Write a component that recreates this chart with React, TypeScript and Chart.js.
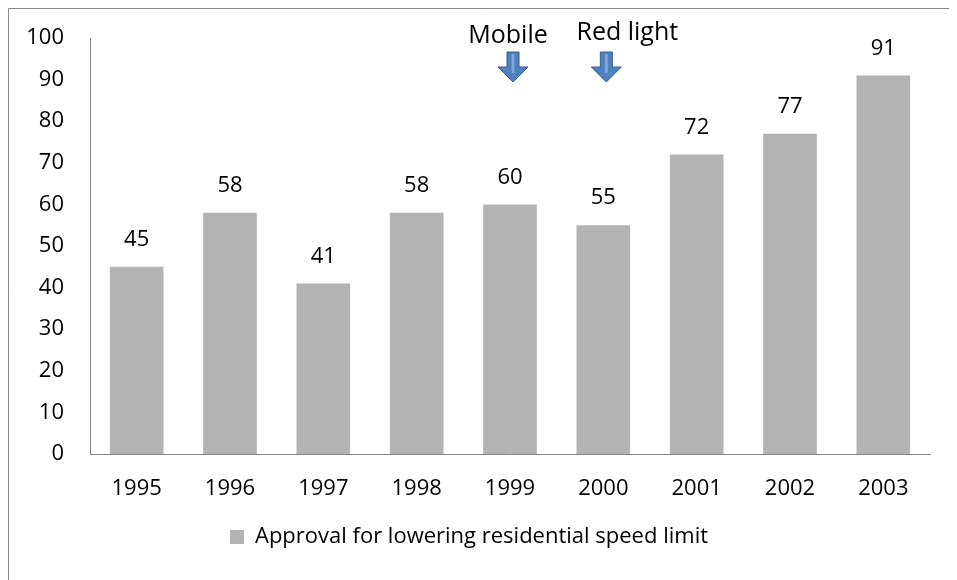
import React, { useEffect, useRef } from "react";
import { Chart, registerables } from "chart.js";

Chart.register(...registerables);

const years = ["1995", "1996", "1997", "1998", "1999", "2000", "2001", "2002", "2003"];
const approval = [45, 58, 41, 58, 60, 55, 72, 77, 91];
const seriesLabel = "Approval for lowering residential speed limit";
const markers = [
  { year: "1999", text: "Mobile", textDx: -5, textDy: -1 },
  { year: "2000", text: "Red light", textDx: 21, textDy: -4 },
];

const FONT = "'Open Sans', sans-serif";

const framePlugin = {
  id: "frame",
  beforeDraw(chart: any) {
    const ctx = chart.ctx;
    ctx.save();
    ctx.fillStyle = "#ffffff";
    ctx.fillRect(0, 0, chart.width, chart.height);
    ctx.strokeStyle = "#868686";
    ctx.lineWidth = 1;
    ctx.beginPath();
    ctx.moveTo(0.5, chart.height);
    ctx.lineTo(0.5, 0.5);
    ctx.lineTo(chart.width, 0.5);
    ctx.stroke();
    ctx.restore();
  },
};

const valueLabelPlugin = {
  id: "valueLabels",
  afterDatasetsDraw(chart: any) {
    const ctx = chart.ctx;
    const meta = chart.getDatasetMeta(0);
    ctx.save();
    ctx.font = `22px ${FONT}`;
    ctx.fillStyle = "#000000";
    ctx.textAlign = "center";
    ctx.textBaseline = "middle";
    meta.data.forEach((bar: any, i: number) => {
      ctx.fillText(String(approval[i]), bar.x, bar.y - 27);
    });
    ctx.restore();
  },
};

const markerPlugin = {
  id: "markers",
  afterDraw(chart: any) {
    const ctx = chart.ctx;
    const xs = chart.scales.x;
    const top = chart.chartArea.top;
    ctx.save();
    markers.forEach((m) => {
      const cx = xs.getPixelForValue(years.indexOf(m.year)) + 3;
      ctx.font = `25px ${FONT}`;
      ctx.fillStyle = "#000000";
      ctx.textAlign = "center";
      ctx.textBaseline = "middle";
      ctx.fillText(m.text, cx + m.textDx, top - 1 + m.textDy);
      const y0 = top + 14;
      const y1 = top + 29;
      const y2 = top + 44;
      const sw = 6;
      const hw = 15;
      ctx.beginPath();
      ctx.moveTo(cx - sw, y0);
      ctx.lineTo(cx + sw, y0);
      ctx.lineTo(cx + sw, y1);
      ctx.lineTo(cx + hw, y1);
      ctx.lineTo(cx, y2);
      ctx.lineTo(cx - hw, y1);
      ctx.lineTo(cx - sw, y1);
      ctx.closePath();
      ctx.fillStyle = "#4F81BD";
      ctx.fill();
      ctx.strokeStyle = "#385D8A";
      ctx.lineWidth = 1;
      ctx.stroke();
      ctx.fillStyle = "#7FA6D6";
      ctx.fillRect(cx - 1.5, y0 + 2, 3, y1 - y0 + 4);
    });
    ctx.restore();
  },
};

export default function App() {
  const ref = useRef<HTMLCanvasElement | null>(null);

  useEffect(() => {
    document.body.style.overflow = "hidden";
    const canvas = ref.current;
    if (!canvas) return;
    const chart = new Chart(canvas, {
      type: "bar",
      data: {
        labels: years,
        datasets: [
          {
            label: seriesLabel,
            data: approval,
            backgroundColor: "#B3B3B3",
            borderWidth: 0,
            barPercentage: 0.575,
            categoryPercentage: 1,
          },
        ],
      },
      options: {
        animation: false,
        responsive: false,
        maintainAspectRatio: false,
        layout: { padding: { left: 0, right: 27, top: 30, bottom: 22 } },
        plugins: {
          tooltip: { enabled: false },
          title: { display: false },
          legend: {
            position: "bottom",
            labels: {
              color: "#000000",
              font: { family: FONT, size: 22 },
              boxWidth: 14,
              boxHeight: 14,
              padding: 10,
            },
          },
        },
        scales: {
          x: {
            grid: { display: false, drawTicks: false },
            border: { display: true, color: "#868686", width: 1 },
            ticks: {
              color: "#000000",
              font: { family: FONT, size: 22 },
              padding: 22,
            },
            afterFit(scale: any) {
              scale.height = 62;
              scale.paddingLeft = 0;
              scale.paddingRight = 0;
            },
          },
          y: {
            min: 0,
            max: 100,
            grid: { display: false, drawTicks: false },
            border: { display: true, color: "#868686", width: 1 },
            ticks: {
              stepSize: 10,
              color: "#000000",
              font: { family: FONT, size: 22 },
              padding: 26,
            },
            afterFit(scale: any) {
              scale.width = 82;
              scale.paddingTop = 0;
              scale.paddingBottom = 0;
            },
          },
        },
      },
      plugins: [framePlugin, valueLabelPlugin, markerPlugin],
    });
    return () => chart.destroy();
  }, []);

  return (
    <div style={{ width: 949, height: 572 }}>
      <canvas ref={ref} width={949} height={572} style={{ display: "block" }} />
    </div>
  );
}
